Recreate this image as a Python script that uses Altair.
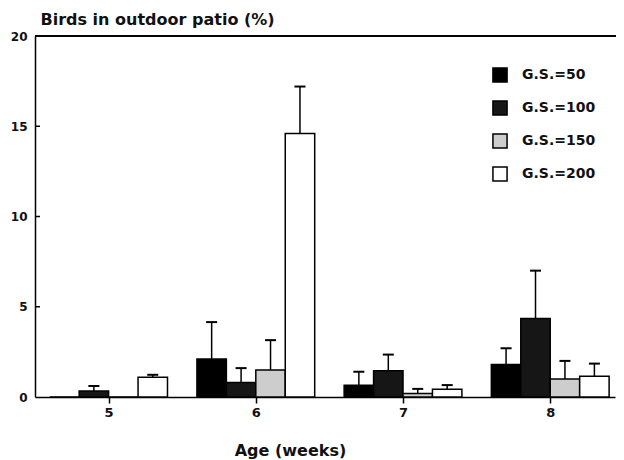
import altair as alt
import pandas as pd

# ---- data ----
ages = [5, 6, 7, 8]
groups = ["G.S.=50", "G.S.=100", "G.S.=150", "G.S.=200"]
gs50 = [0.0, 2.1, 0.65, 1.8]
gs50_err = [0.0, 2.05, 0.75, 0.9]
gs100 = [0.33, 0.8, 1.45, 4.35]
gs100_err = [0.28, 0.8, 0.9, 2.65]
gs150 = [0.0, 1.5, 0.2, 1.0]
gs150_err = [0.0, 1.65, 0.25, 1.0]
gs200 = [1.1, 14.6, 0.43, 1.15]
gs200_err = [0.13, 2.6, 0.23, 0.7]
y_ticks = [0, 5, 10, 15, 20]
fills = ["#000000", "#161616", "#cdcdcd", "#ffffff"]

rows = []
for gi, (g, vals, errs) in enumerate(
    zip(groups, [gs50, gs100, gs150, gs200], [gs50_err, gs100_err, gs150_err, gs200_err])
):
    for a, v, e in zip(ages, vals, errs):
        rows.append({"age": a, "group": g, "idx": gi, "value": v, "err": e})
df = pd.DataFrame(rows)
tick_df = pd.DataFrame({"v": y_ticks[1:-1]})

FONT = "DejaVu Sans"
W, H = 580, 361
xs = alt.Scale(domain=[4.5, 8.44], nice=False, zero=False, padding=0)
ys = alt.Scale(domain=[0, 20], nice=False, padding=0)

x_axis = alt.Axis(
    values=ages, format="d", tickSize=6, tickColor="black", tickWidth=1.5,
    domainColor="black", domainWidth=1.5, grid=False,
    labelFont=FONT, labelFontWeight="bold", labelFontSize=13, labelColor="#111",
    labelPadding=3,
    title="Age (weeks)", titleFont=FONT, titleFontWeight="bold", titleFontSize=16,
    titleColor="#111", titleX=255, titleY=58, titleBaseline="alphabetic",
)
y_axis = alt.Axis(
    values=y_ticks, ticks=False, grid=False, domainColor="black", domainWidth=1.5,
    labelFont=FONT, labelFontWeight="bold", labelFontSize=12, labelColor="#111",
    labelPadding=8,
    title="Birds in outdoor patio (%)", titleFont=FONT, titleFontWeight="bold",
    titleFontSize=16, titleColor="#111", titleAngle=0, titleAlign="left",
    titleBaseline="alphabetic", titleX=5, titleY=-12,
)
X_T = "Age (weeks)"
Y_T = "Birds in outdoor patio (%)"

base = alt.Chart(df).transform_calculate(
    x0="datum.age + (datum.idx - 2) * 0.2",
    x1="datum.age + (datum.idx - 1) * 0.2",
    xc="datum.age + (datum.idx - 1.5) * 0.2",
    top="datum.value + datum.err",
)

bars = base.mark_bar(stroke="black", strokeWidth=1.5, orient="vertical").encode(
    x=alt.X("x0:Q", scale=xs, axis=x_axis, title=X_T),
    x2="x1:Q",
    y=alt.Y("value:Q", scale=ys, axis=y_axis, title=Y_T),
    y2=alt.datum(0),
    fill=alt.Fill(
        "group:N",
        scale=alt.Scale(domain=groups, range=fills),
        legend=alt.Legend(
            title=None, orient="none", legendX=457, legendY=31,
            symbolType="square", symbolSize=200, symbolStrokeColor="black",
            symbolStrokeWidth=1.5, symbolOpacity=1,
            labelFont=FONT, labelFontWeight="bold", labelFontSize=14, labelColor="#111",
            labelOffset=14, rowPadding=11,
        ),
    ),
)

err_base = base.transform_filter("datum.err > 0")
stems = err_base.mark_rule(color="black", strokeWidth=1.5).encode(
    x=alt.X("xc:Q", scale=xs, axis=x_axis, title=X_T),
    y=alt.Y("value:Q", scale=ys, axis=y_axis, title=Y_T),
    y2="top:Q",
)
caps = err_base.mark_tick(orient="horizontal", size=11, thickness=2, color="black", opacity=1).encode(
    x=alt.X("xc:Q", scale=xs, axis=x_axis, title=X_T),
    y=alt.Y("top:Q", scale=ys, axis=y_axis, title=Y_T),
)

inner_ticks = alt.Chart(tick_df).mark_rule(color="black", strokeWidth=1.5).encode(
    x=alt.value(0), x2=alt.value(5), y=alt.Y("v:Q", scale=ys, axis=y_axis, title=Y_T)
)
top_line = alt.Chart(tick_df).mark_rule(color="black", strokeWidth=1.5).encode(
    x=alt.value(0), x2=alt.value(W + 1), y=alt.value(0)
)

chart = (
    alt.layer(bars, stems, caps, inner_ticks, top_line)
    .properties(
        width=W, height=H,
        autosize=alt.AutoSizeParams(type="none"),
        padding={"left": 27, "top": 28, "right": 1, "bottom": 62},
        background="white",
    )
    .configure_view(stroke=None)
)

chart.save("out.html", embed_options={"renderer": "svg", "actions": False})
